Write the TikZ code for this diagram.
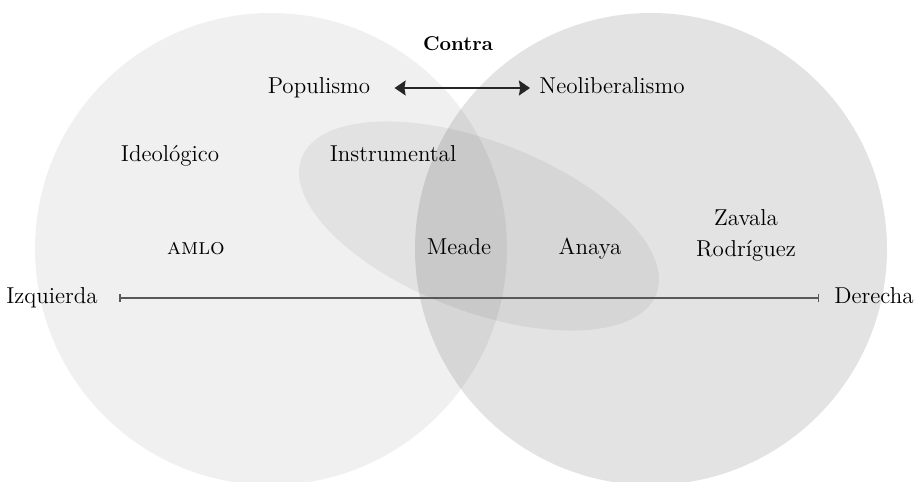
\documentclass[tikz,border=0pt]{standalone}
\usetikzlibrary{arrows.meta, positioning}

\begin{document}
\begin{tikzpicture}[
    x=0.5pt, y=-0.5pt,
    font=\fontsize{11.5}{14}\selectfont,
    % --- estilos ---
    zona/.style   = {fill=black, fill opacity=#1},
    etq/.style    = {inner sep=1pt, text height=1.5ex, text depth=.25ex},
    eje/.style    = {{Bar[width=4pt]}-{Bar[width=4pt]}, line width=0.75pt, draw=black!65},
    flecha/.style = {{Stealth[length=5.5pt,width=7.5pt,inset=0.6pt]}-{Stealth[length=5.5pt,width=7.5pt,inset=0.6pt]},
                     line width=0.75pt, draw=black!85, fill=black!85}
]
\useasboundingbox (0,0) rectangle (917,482);

% ===================== ZONAS =====================
\fill[zona=0.06] (271,249) circle [radius=236];
\fill[zona=0.11] (651,249) circle [radius=236];
\fill[zona=0.06, rotate around={-21:(479,226)}] (479,226) ellipse [x radius=190, y radius=85];

% ===================== ETIQUETAS =====================
\node[etq, font=\bfseries] (contra) at (458,45)  {Contra};
\node[etq] (pop)   at (319,88)  {Populismo};
\node[etq] (neo)   at (612,88)  {Neoliberalismo};
\node[etq] (ideo)  at (170,156) {Ideológico};
\node[etq] (inst)  at (393,156) {Instrumental};
\node[etq] (amlo)  at (196,249) {\textsc{amlo}};
\node[etq] (meade) at (459,249) {Meade};
\node[etq] (anaya) at (590,249) {Anaya};
\node[etq] (zav)   at (746,220) {Zavala};
\node[etq] (rod)   [below=5.5pt of zav] {Rodríguez};
\node[etq, anchor=east] (izq) at (100,298) {Izquierda};
\node[etq, anchor=west] (der) at (832,298) {Derecha};

% ===================== FLECHAS =====================
\draw[flecha, shorten <=11pt, shorten >=3.5pt] (pop) -- (neo);
\draw[eje] ([xshift=9.5pt]izq.east) -- ([xshift=-6.5pt]der.west);

\end{tikzpicture}
\end{document}
